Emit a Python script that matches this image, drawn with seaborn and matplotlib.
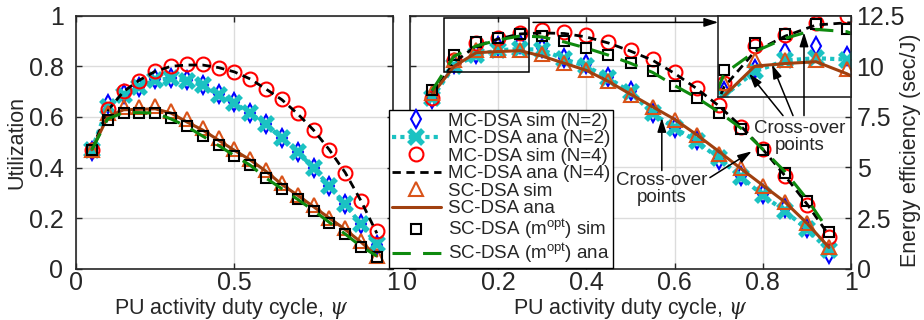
import numpy as np
import pandas as pd
import matplotlib
matplotlib.use("Agg")
import matplotlib.pyplot as plt
import seaborn as sns
from matplotlib.patches import Rectangle

# PU activity duty cycle
psi = [0.05, 0.10, 0.15, 0.20, 0.25, 0.30, 0.35, 0.40, 0.45, 0.50,
       0.55, 0.60, 0.65, 0.70, 0.75, 0.80, 0.85, 0.90, 0.95]

# utilization (left panel)
util_mc2_sim = [0.465, 0.650, 0.690, 0.720, 0.748, 0.755, 0.745, 0.728, 0.690, 0.658,
                0.615, 0.572, 0.516, 0.462, 0.397, 0.327, 0.254, 0.175, 0.095]
util_mc2_ana = [0.470, 0.640, 0.688, 0.718, 0.746, 0.752, 0.742, 0.725, 0.687, 0.656,
                0.614, 0.571, 0.515, 0.462, 0.397, 0.327, 0.254, 0.175, 0.096]
util_mc4_sim = [0.469, 0.630, 0.702, 0.742, 0.781, 0.802, 0.808, 0.808, 0.795, 0.777,
                0.749, 0.709, 0.670, 0.614, 0.548, 0.469, 0.380, 0.268, 0.149]
util_mc4_ana = [0.470, 0.625, 0.700, 0.745, 0.780, 0.800, 0.805, 0.805, 0.795, 0.778,
                0.750, 0.710, 0.668, 0.612, 0.548, 0.470, 0.380, 0.268, 0.140]
util_sc_sim = [0.470, 0.615, 0.640, 0.640, 0.645, 0.625, 0.590, 0.556, 0.516, 0.475,
               0.435, 0.390, 0.337, 0.293, 0.250, 0.202, 0.160, 0.110, 0.050]
util_sc_ana = [0.470, 0.600, 0.628, 0.630, 0.632, 0.615, 0.580, 0.548, 0.508, 0.468,
               0.430, 0.385, 0.333, 0.290, 0.245, 0.200, 0.155, 0.105, 0.050]
util_scm_sim = [0.469, 0.588, 0.617, 0.617, 0.617, 0.594, 0.564, 0.526, 0.489, 0.445,
                0.411, 0.357, 0.315, 0.274, 0.229, 0.182, 0.136, 0.087, 0.045]
util_scm_ana = [0.470, 0.592, 0.617, 0.617, 0.615, 0.592, 0.562, 0.524, 0.487, 0.447,
                0.409, 0.358, 0.316, 0.274, 0.230, 0.183, 0.137, 0.088, 0.050]

# energy efficiency in sec/J (right panel)
eff_mc2_sim = [8.40, 10.10, 10.60, 11.00, 11.12, 10.90, 10.42, 10.09, 9.48, 8.77,
               7.70, 6.96, 6.34, 5.39, 4.59, 3.67, 3.00, 2.00, 0.75]
eff_mc2_ana = [8.45, 10.00, 10.55, 10.80, 10.85, 10.82, 10.35, 10.00, 9.42, 8.72,
               7.68, 6.95, 6.30, 5.45, 4.55, 3.62, 2.85, 1.95, 0.90]
eff_mc4_sim = [8.44, 10.30, 11.13, 11.38, 11.64, 11.80, 11.68, 11.57, 11.18, 10.80,
               10.38, 9.71, 8.94, 8.08, 7.00, 5.92, 4.59, 3.16, 1.59]
eff_mc4_ana = [8.60, 10.20, 11.00, 11.35, 11.60, 11.65, 11.62, 11.45, 11.15, 10.75,
               10.30, 9.65, 8.90, 8.05, 7.05, 5.90, 4.60, 3.20, 1.65]
eff_sc_sim = [8.69, 10.30, 10.80, 10.81, 10.81, 10.60, 10.17, 9.84, 9.26, 8.60,
              7.99, 7.36, 6.62, 5.68, 4.97, 4.10, 3.32, 2.25, 1.09]
eff_sc_ana = [8.60, 10.00, 10.67, 10.73, 10.77, 10.50, 10.15, 9.80, 9.25, 8.62,
              8.00, 7.38, 6.62, 5.80, 4.95, 4.12, 3.30, 2.25, 1.05]
eff_scm_sim = [8.85, 10.58, 11.19, 11.40, 11.62, 11.50, 11.24, 10.92, 10.58, 10.17,
               9.76, 9.02, 8.44, 7.70, 6.91, 5.85, 4.73, 3.36, 1.79]
eff_scm_ana = [8.80, 10.50, 11.00, 11.30, 11.50, 11.45, 11.20, 10.90, 10.55, 10.15,
               9.70, 9.05, 8.45, 7.75, 6.95, 5.90, 4.80, 3.45, 1.85]

labels = ['MC-DSA sim (N=2)', 'MC-DSA ana (N=2)', 'MC-DSA sim (N=4)', 'MC-DSA ana (N=4)',
          'SC-DSA sim', 'SC-DSA ana', r'SC-DSA (m$^{\rm opt}$) sim', r'SC-DSA (m$^{\rm opt}$) ana']

util_series = [util_mc2_sim, util_mc2_ana, util_mc4_sim, util_mc4_ana,
               util_sc_sim, util_sc_ana, util_scm_sim, util_scm_ana]
eff_series = [eff_mc2_sim, eff_mc2_ana, eff_mc4_sim, eff_mc4_ana,
              eff_sc_sim, eff_sc_ana, eff_scm_sim, eff_scm_ana]

cyan = '#1BC2C2'
orange = '#D95319'
brown = '#A0400F'
green = '#0E8A0E'

styles = [
    dict(marker='d', ls='none', color='blue', mfc='none', mec='blue', ms=9, mew=1.5),
    dict(marker='x', ls=(0, (1, 1)), color=cyan, mec=cyan, ms=10, mew=4, lw=3),
    dict(marker='o', ls='none', color='red', mfc='none', mec='red', ms=10, mew=1.5),
    dict(marker=None, ls=(0, (3, 2)), color='black', lw=2),
    dict(marker='^', ls='none', color=orange, mfc='none', mec=orange, ms=9.5, mew=1.5),
    dict(marker=None, ls='-', color=brown, lw=2.2),
    dict(marker='s', ls='none', color='black', mfc='none', mec='black', ms=7.5, mew=1.5),
    dict(marker=None, ls=(0, (6, 4)), color=green, lw=2.2),
]

sns.set_theme(style="whitegrid")
plt.rcParams['font.family'] = ['Liberation Sans', 'DejaVu Sans']
plt.rcParams['mathtext.fontset'] = 'custom'
plt.rcParams['mathtext.rm'] = 'Liberation Sans'
plt.rcParams['mathtext.it'] = 'DejaVu Serif:italic'

fig = plt.figure(figsize=(9.24, 3.2), dpi=100)
ax1 = fig.add_axes([76 / 924, 1 - 268.7 / 320, 316.7 / 924, 253 / 320])
ax2 = fig.add_axes([410 / 924, 1 - 268.7 / 320, 441 / 924, 253 / 320])
axin = fig.add_axes([718 / 924, 1 - 96.7 / 320, 133 / 924, 81 / 320])


def draw(ax, series):
    for vals, lab, st in zip(series, labels, styles):
        sns.lineplot(x=psi, y=vals, ax=ax, label=lab, errorbar=None, **st)
    if ax.get_legend() is not None:
        ax.get_legend().remove()


draw(ax1, util_series)
handles, labs = ax1.get_legend_handles_labels()
draw(ax2, eff_series)
draw(axin, eff_series)

grid_c = '#DCDCDC'
spine_c = '#262626'
for ax in (ax1, ax2, axin):
    for s in ax.spines.values():
        s.set_color(spine_c)
        s.set_linewidth(1.2)
        s.set_visible(True)
    ax.set_facecolor('white')

for ax in (ax1, ax2):
    ax.grid(True, color=grid_c, lw=1)
    ax.tick_params(direction='in', length=4, width=1, colors=spine_c, labelsize=18,
                   top=True, bottom=True, left=True, right=True, labelcolor='#262626')
    ax.tick_params(axis='x', pad=2)

ax1.set_xlim(0, 1)
ax1.set_ylim(0, 1)
ax1.set_xticks([0, 0.5, 1])
ax1.set_xticklabels(['0', '0.5', '1'])
ax1.set_yticks([0, 0.2, 0.4, 0.6, 0.8, 1])
ax1.set_yticklabels(['0', '0.2', '0.4', '0.6', '0.8', '1'])
ax1.tick_params(axis='y', pad=9)
ax1.set_xlabel(r'PU activity duty cycle, $\mathit{\psi}$', fontsize=15.5)
ax1.set_ylabel('Utilization', fontsize=15.5)

ax2.set_xlim(0, 1)
ax2.set_ylim(0, 12.5)
ax2.set_xticks([0, 0.2, 0.4, 0.6, 0.8, 1])
ax2.set_xticklabels(['0', '0.2', '0.4', '0.6', '0.8', '1'])
ax2.set_yticks([0, 2.5, 5, 7.5, 10, 12.5])
ax2.set_yticklabels(['0', '2.5', '5', '7.5', '10', '12.5'])
ax2.yaxis.set_label_position('right')
ax2.tick_params(axis='y', labelleft=False, labelright=True, pad=4)
ax2.set_xlabel(r'PU activity duty cycle, $\mathit{\psi}$', fontsize=15.5)
ax2.set_ylabel('Energy efficiency (sec/J)', fontsize=15.5)

for ax in (ax1, ax2):
    for lab_artist in (ax.xaxis.label, ax.yaxis.label):
        lab_artist.set_ha('center')
        lab_artist.set_va('center')
ax1.xaxis.set_label_coords(0.49, -0.159)
ax1.yaxis.set_label_coords(-0.186, 0.5)
ax2.xaxis.set_label_coords(0.5, -0.159)
ax2.yaxis.set_label_coords(1.134, 0.47)

# zoomed inset
axin.set_xlim(0.09, 0.307)
axin.set_ylim(9.98, 11.81)
axin.set_xticks([])
axin.set_yticks([])
axin.grid(False)

ax2.add_patch(Rectangle((0.078, 9.74), 0.191, 2.63, fill=False, ec='black', lw=1.1, zorder=6))

arrow = dict(arrowstyle='-|>,head_length=0.7,head_width=0.22', color='black', lw=1.1,
             shrinkA=0, shrinkB=0)
T = ax2.transData
axin.annotate('', xy=(0.699, 12.17), xytext=(0.279, 12.17), xycoords=T, textcoords=T,
              arrowprops=arrow, annotation_clip=False)

# lower cross-over label
ax2.text(0.571, 3.95, 'Cross-over\npoints', ha='center', va='center', fontsize=13.5,
         linespacing=1.0, zorder=7)
ax2.annotate('', xy=(0.571, 7.45), xytext=(0.571, 4.85), arrowprops=arrow, zorder=7)
ax2.annotate('', xy=(0.775, 5.8), xytext=(0.68, 4.5), arrowprops=arrow, zorder=7)

# upper cross-over label
ax2.text(0.884, 6.5, 'Cross-over\npoints', ha='center', va='center', fontsize=13.5,
         linespacing=1.0, zorder=7)
for (tx, ty), (hx, hy) in [((783, 116), (749, 74)), ((793, 116), (772, 65)),
                           ((804, 116), (804, 33))]:
    axin.annotate('', xy=((hx - 410) / 441, (268.8 - hy) / 20.2),
                  xytext=((tx - 410) / 441, (268.8 - ty) / 20.2),
                  xycoords=T, textcoords=T, arrowprops=arrow, annotation_clip=False)

leg = fig.legend(handles, labs, loc='lower left', bbox_to_anchor=(389 / 924, 1 - 268 / 320),
                 fontsize=13.5, frameon=True, fancybox=False, framealpha=1,
                 edgecolor='black', borderpad=0.15, labelspacing=0.02, handlelength=2.6,
                 handletextpad=0.4, borderaxespad=0)
leg.get_frame().set_linewidth(1.0)

fig.savefig('out.png', dpi=100)
